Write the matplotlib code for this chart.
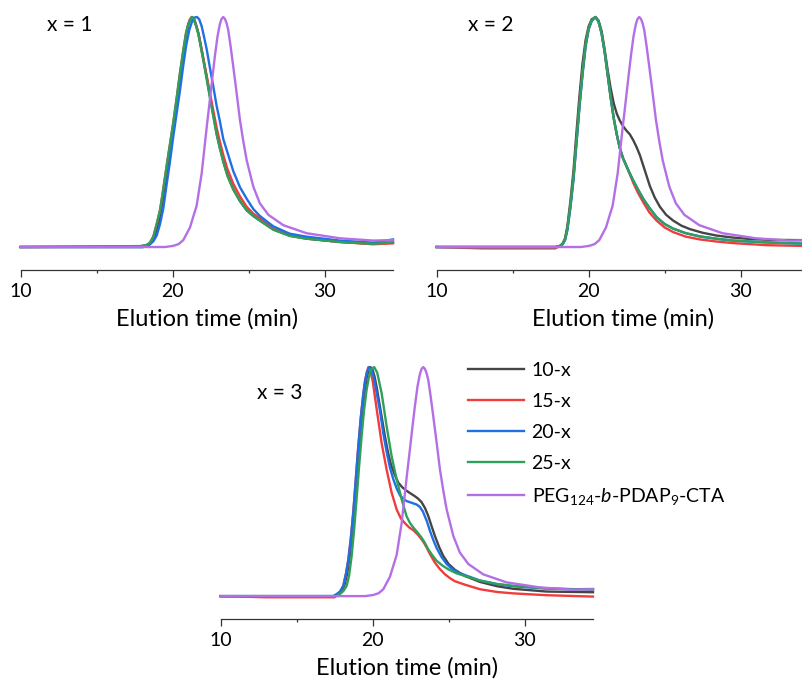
import matplotlib
matplotlib.use("Agg")
import matplotlib.pyplot as plt

plt.rcParams['font.family'] = ['Lato', 'DejaVu Sans']
plt.rcParams['mathtext.fontset'] = 'custom'
plt.rcParams['mathtext.rm'] = 'Lato'
plt.rcParams['mathtext.it'] = 'Lato:italic'
plt.rcParams['mathtext.default'] = 'regular'

# series names / colours
labels = ['10-x', '15-x', '20-x', '25-x', r'PEG$_{124}$-$\mathit{b}$-PDAP$_{9}$-CTA']
colors = ['#454545', '#f03c3c', '#1f6fe5', '#2f9f5c', '#b46fe6']
panel_titles = ['x = 1', 'x = 2', 'x = 3']

# macro-CTA trace (same in every panel)
peg_t = [10, 19.5, 20.04, 20.4, 20.7, 21.14, 21.58, 21.91, 22.24, 22.45, 22.62, 22.78, 22.95, 23.11, 23.22,
         23.33, 23.44, 23.55, 23.66, 23.82, 23.99, 24.21, 24.43, 24.65, 24.87, 25.31, 25.74, 26.3, 27.28,
         28.81, 31.0, 33.2, 34.5]
peg_y = [0, 0, 0.005, 0.013, 0.03, 0.085, 0.18, 0.32, 0.52, 0.64, 0.74, 0.83, 0.915, 0.97, 0.992,
         1.0, 0.992, 0.973, 0.943, 0.87, 0.784, 0.67, 0.552, 0.46, 0.378, 0.262, 0.19, 0.14, 0.095,
         0.06, 0.038, 0.028, 0.03]

# ---- x = 1 ----
p1_10_t = [10, 18.0, 18.4, 18.73, 18.95, 19.17, 19.38, 19.6, 19.82, 20.04, 20.26, 20.48, 20.7, 20.88, 21.03,
           21.15, 21.29, 21.42, 21.57, 21.71, 21.87, 22.04, 22.26, 22.47, 22.69, 22.91, 23.12, 23.35, 23.62,
           24.0, 24.43, 24.87, 25.31, 25.74, 26.62, 27.7, 28.8, 31.0, 33.2, 34.5]
p1_10_y = [0, 0, 0.006, 0.03, 0.075, 0.13, 0.22, 0.32, 0.42, 0.52, 0.625, 0.735, 0.84, 0.92, 0.965,
           0.99, 1.0, 0.99, 0.96, 0.925, 0.87, 0.81, 0.73, 0.65, 0.57, 0.49, 0.43, 0.37, 0.31,
           0.25, 0.2, 0.16, 0.135, 0.115, 0.077, 0.05, 0.037, 0.022, 0.014, 0.02]
p1_15_t = [10, 17.85, 18.29, 18.5, 18.73, 18.95, 19.17, 19.38, 19.6, 19.82, 20.04, 20.26, 20.48, 20.7, 20.88,
           21.03, 21.15, 21.25, 21.38, 21.53, 21.69, 21.85, 22.02, 22.24, 22.45, 22.67, 22.89, 23.1, 23.33,
           23.6, 23.99, 24.43, 24.87, 25.31, 25.74, 26.62, 27.7, 28.8, 31.0, 33.2, 34.5]
p1_15_y = [0, 0.002, 0.009, 0.018, 0.045, 0.1, 0.16, 0.25, 0.35, 0.445, 0.54, 0.645, 0.755, 0.855, 0.93,
           0.97, 0.99, 1.0, 0.99, 0.965, 0.93, 0.88, 0.82, 0.745, 0.67, 0.595, 0.52, 0.46, 0.4,
           0.34, 0.275, 0.22, 0.175, 0.145, 0.125, 0.08, 0.05, 0.037, 0.022, 0.012, 0.016]
p1_20_t = [10, 18.1, 18.3, 18.51, 18.73, 18.95, 19.17, 19.39, 19.6, 19.82, 20.04, 20.26, 20.48, 20.7, 20.9,
           21.1, 21.3, 21.45, 21.6, 21.75, 21.91, 22.08, 22.24, 22.45, 22.67, 22.89, 23.1, 23.33, 23.66,
           23.99, 24.43, 24.87, 25.31, 25.74, 26.62, 27.7, 28.8, 31.0, 33.2, 34.5]
p1_20_y = [0, 0, 0.006, 0.012, 0.025, 0.05, 0.1, 0.17, 0.27, 0.37, 0.48, 0.58, 0.68, 0.79, 0.88,
           0.945, 0.985, 0.998, 1.0, 0.99, 0.96, 0.91, 0.86, 0.78, 0.7, 0.615, 0.55, 0.47, 0.4,
           0.33, 0.26, 0.21, 0.165, 0.135, 0.09, 0.058, 0.045, 0.028, 0.019, 0.033]
p1_25_t = [10, 17.85, 18.29, 18.5, 18.73, 18.95, 19.17, 19.38, 19.6, 19.82, 20.04, 20.26, 20.48, 20.7, 20.88,
           21.03, 21.15, 21.27, 21.4, 21.55, 21.69, 21.85, 22.02, 22.24, 22.45, 22.67, 22.89, 23.1, 23.33,
           23.6, 23.99, 24.43, 24.87, 25.31, 25.74, 26.62, 27.7, 28.8, 31.0, 33.2, 34.5]
p1_25_y = [0, 0.004, 0.009, 0.018, 0.045, 0.1, 0.16, 0.25, 0.35, 0.445, 0.54, 0.645, 0.755, 0.855, 0.93,
           0.97, 0.99, 1.0, 0.99, 0.96, 0.925, 0.87, 0.81, 0.73, 0.65, 0.57, 0.49, 0.43, 0.37,
           0.31, 0.25, 0.2, 0.16, 0.135, 0.115, 0.075, 0.048, 0.036, 0.022, 0.014, 0.02]

# ---- x = 2 ----
p2_rise_t = [10, 17.8, 18.1, 18.3, 18.45, 18.6, 18.8, 19.0, 19.2, 19.4, 19.6, 19.8, 20.0, 20.2, 20.45]
p2_10_t = p2_rise_t + [20.65, 20.85, 21.05, 21.25, 21.45, 21.65, 21.85, 22.05, 22.27, 22.5, 22.71, 22.93,
                       23.15, 23.37, 23.59, 23.81, 24.03, 24.35, 24.69, 25.1, 25.56, 26.1, 26.66, 27.5,
                       28.4, 29.5, 30.6, 32.0, 34.0]
p2_10_y = [0, 0, 0.004, 0.016, 0.038, 0.09, 0.2, 0.33, 0.5, 0.66, 0.8, 0.9, 0.96, 0.99, 1.0,
           0.985, 0.94, 0.86, 0.77, 0.69, 0.625, 0.58, 0.55, 0.525, 0.505, 0.49, 0.465,
           0.435, 0.4, 0.355, 0.31, 0.265, 0.215, 0.175, 0.14, 0.115, 0.093, 0.078, 0.062,
           0.05, 0.041, 0.035, 0.031, 0.03]
p2_fall_t = [20.65, 20.85, 21.05, 21.25, 21.45, 21.65, 21.85, 22.05, 22.27, 22.6, 22.93, 23.25, 23.59, 24.0,
             24.47, 25.0, 25.56, 26.4, 27.32, 28.4, 29.51, 31.7, 34.0]
p2_15_t = [10, 13.0, 17.8] + p2_rise_t[2:] + p2_fall_t
p2_15_y = [0, -0.006, -0.006, 0.004, 0.015, 0.035, 0.08, 0.18, 0.3, 0.46, 0.62, 0.76, 0.88, 0.95, 0.985, 1.0,
           0.98, 0.93, 0.85, 0.75, 0.65, 0.56, 0.49, 0.43, 0.385, 0.335, 0.28, 0.235, 0.195, 0.15,
           0.115, 0.085, 0.065, 0.045, 0.033, 0.024, 0.017, 0.008, 0.005]
p2_20_t = p2_rise_t + p2_fall_t
p2_20_y = [0, 0, 0.003, 0.013, 0.03, 0.072, 0.17, 0.29, 0.45, 0.61, 0.75, 0.87, 0.945, 0.983, 1.0,
           0.98, 0.93, 0.85, 0.75, 0.65, 0.56, 0.49, 0.43, 0.385, 0.335, 0.29, 0.25, 0.21, 0.17,
           0.13, 0.1, 0.08, 0.06, 0.046, 0.036, 0.028, 0.02, 0.015]
p2_25_t = p2_rise_t + p2_fall_t
p2_25_y = [0, 0, 0.004, 0.015, 0.035, 0.08, 0.18, 0.3, 0.46, 0.62, 0.76, 0.88, 0.95, 0.985, 1.0,
           0.98, 0.93, 0.85, 0.75, 0.65, 0.56, 0.49, 0.43, 0.385, 0.335, 0.29, 0.25, 0.21, 0.17,
           0.13, 0.1, 0.08, 0.06, 0.046, 0.036, 0.028, 0.02, 0.015]

# ---- x = 3 ----
p3_10_t = [10, 17.5, 17.75, 17.95, 18.15, 18.33, 18.5, 18.66, 18.83, 19.0, 19.15, 19.3, 19.45, 19.6, 19.72,
           19.85, 19.98, 20.12, 20.27, 20.42, 20.6, 20.8, 21.0, 21.2, 21.45, 21.69, 21.95, 22.23, 22.5,
           22.78, 23.0, 23.22, 23.44, 23.66, 23.88, 24.1, 24.37, 24.65, 25.0, 25.41, 26.07, 27.06, 28.2,
           29.25, 31.44, 34.5]
p3_10_y = [0, 0, 0.008, 0.02, 0.05, 0.1, 0.18, 0.28, 0.4, 0.54, 0.67, 0.79, 0.88, 0.95, 0.985,
           1.0, 0.99, 0.96, 0.91, 0.85, 0.78, 0.7, 0.63, 0.575, 0.53, 0.495, 0.475, 0.46, 0.448,
           0.436, 0.425, 0.41, 0.385, 0.35, 0.305, 0.262, 0.215, 0.175, 0.14, 0.115, 0.088, 0.062, 0.043,
           0.032, 0.02, 0.017]
p3_15_t = [10, 13.0, 17.5, 17.63, 17.85, 18.07, 18.25, 18.4, 18.56, 18.73, 18.89, 19.05, 19.22, 19.38, 19.5,
           19.62, 19.72, 19.85, 20.0, 20.15, 20.3, 20.59, 20.92, 21.25, 21.58, 21.85, 22.13, 22.4, 22.67,
           22.95, 23.22, 23.4, 23.55, 23.8, 24.1, 24.4, 24.76, 25.1, 25.41, 26.07, 27.06, 28.2, 29.25,
           31.44, 34.5]
p3_15_y = [0, -0.005, -0.005, 0.005, 0.018, 0.045, 0.1, 0.16, 0.25, 0.37, 0.51, 0.65, 0.78, 0.88, 0.94,
           0.98, 1.0, 0.985, 0.94, 0.87, 0.8, 0.668, 0.552, 0.451, 0.378, 0.34, 0.318, 0.3, 0.288,
           0.27, 0.248, 0.23, 0.212, 0.18, 0.146, 0.12, 0.095, 0.078, 0.065, 0.05, 0.03, 0.018, 0.012,
           0.004, -0.002]
p3_20_t = [10, 17.4, 17.63, 17.85, 18.07, 18.25, 18.4, 18.56, 18.73, 18.89, 19.05, 19.22, 19.38, 19.5, 19.64,
           19.77, 19.92, 20.06, 20.2, 20.34, 20.48, 20.7, 20.92, 21.14, 21.36, 21.58, 21.8, 22.01, 22.23,
           22.45, 22.67, 22.89, 23.1, 23.3, 23.55, 23.77, 23.99, 24.21, 24.54, 24.87, 25.2, 25.6, 26.07,
           27.06, 28.2, 29.25, 31.44, 33.0, 34.5]
p3_20_y = [0, 0, 0.009, 0.02, 0.045, 0.1, 0.16, 0.25, 0.37, 0.51, 0.65, 0.78, 0.88, 0.94, 0.98,
           1.0, 0.99, 0.96, 0.91, 0.86, 0.81, 0.71, 0.63, 0.56, 0.51, 0.47, 0.44, 0.425, 0.415,
           0.41, 0.405, 0.4, 0.39, 0.37, 0.33, 0.285, 0.245, 0.21, 0.17, 0.14, 0.12, 0.104, 0.092,
           0.068, 0.052, 0.043, 0.033, 0.03, 0.031]
p3_25_t = [10, 17.6, 17.85, 18.07, 18.29, 18.45, 18.62, 18.78, 18.94, 19.1, 19.27, 19.43, 19.6, 19.75, 19.9,
           20.1, 20.3, 20.59, 20.92, 21.25, 21.58, 21.91, 22.23, 22.45, 22.67, 22.95, 23.22, 23.44, 23.66,
           23.93, 24.21, 24.6, 24.98, 25.5, 26.07, 27.06, 28.2, 29.25, 31.44, 34.5]
p3_25_y = [0, 0, 0.009, 0.022, 0.045, 0.09, 0.177, 0.29, 0.422, 0.56, 0.697, 0.81, 0.9, 0.955, 0.99,
           1.0, 0.975, 0.886, 0.741, 0.61, 0.509, 0.422, 0.349, 0.32, 0.3, 0.278, 0.255, 0.232, 0.204,
           0.178, 0.154, 0.133, 0.117, 0.1, 0.088, 0.068, 0.053, 0.045, 0.034, 0.028]

panels = [
    [(p1_10_t, p1_10_y), (p1_15_t, p1_15_y), (p1_20_t, p1_20_y), (p1_25_t, p1_25_y)],
    [(p2_10_t, p2_10_y), (p2_15_t, p2_15_y), (p2_20_t, p2_20_y), (p2_25_t, p2_25_y)],
    [(p3_10_t, p3_10_y), (p3_15_t, p3_15_y), (p3_20_t, p3_20_y), (p3_25_t, p3_25_y)],
]

fig = plt.figure(figsize=(8.02, 6.81), dpi=100)
rects = [[0.0258, 0.6035, 0.4642, 0.3715],
         [0.5445, 0.6035, 0.4642, 0.3715],
         [0.2752, 0.0910, 0.4642, 0.3700]]
title_pos = [(11.7, 0.965), (12.06, 0.965), (12.4, 0.887)]
label_pads = [6, 6, 6.5]

for i in range(3):
    ax = fig.add_axes(rects[i])
    for (t, y), c, lab in zip(panels[i], colors, labels):
        ax.plot(t, y, color=c, lw=1.7, label=lab, clip_on=False)
    ax.plot(peg_t, peg_y, color=colors[4], lw=1.7, label=labels[4], clip_on=False)
    ax.set_xlim(10, 34.5)
    ax.set_ylim(-0.1, 1.0)
    ax.set_xticks([10, 20, 30])
    ax.set_xticks([15, 25], minor=True)
    ax.set_yticks([])
    for s in ['left', 'right', 'top']:
        ax.spines[s].set_visible(False)
    ax.spines['bottom'].set_color('#333333')
    ax.spines['bottom'].set_linewidth(0.9)
    ax.tick_params(axis='x', which='major', length=5, width=0.9, color='#333333', labelsize=14, pad=4)
    ax.tick_params(axis='x', which='minor', length=2.5, width=0.9, color='#333333')
    ax.set_xlabel('Elution time (min)', fontsize=17, labelpad=label_pads[i])
    ax.text(title_pos[i][0], title_pos[i][1], panel_titles[i], fontsize=15, va='center', ha='left')
    if i == 2:
        handles, labs = ax.get_legend_handles_labels()

fig.legend(handles, labs, loc='upper left', bbox_to_anchor=(0.5835, 0.469), frameon=False,
           fontsize=14, handlelength=2.9, handletextpad=0.37, labelspacing=0.72,
           borderpad=0, borderaxespad=0)

fig.savefig('out.png', dpi=100)
